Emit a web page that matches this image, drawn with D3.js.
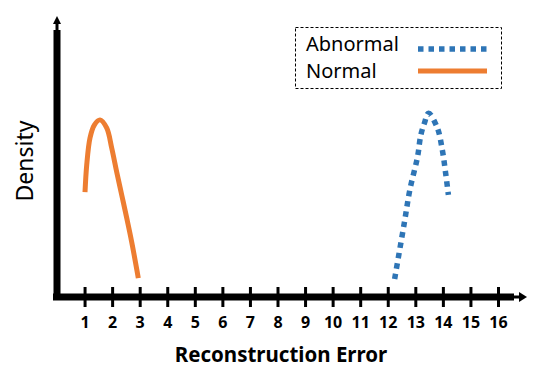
<!DOCTYPE html>
<html lang="en">
  <head>
    <meta charset="utf-8">
    <script src="https://cdn.jsdelivr.net/npm/d3@7"></script>
    <style>
      body { margin: 0; background: #fff; }
      text { font-family: "Noto Sans", "Open Sans", sans-serif; }
    </style>
  </head>
  <body>
    <script>
      // tick values on the error axis
      var ticks = [1, 2, 3, 4, 5, 6, 7, 8, 9, 10, 11, 12, 13, 14, 15, 16];

      // normal curve
      var normalX = [1.016, 1.078, 1.197, 1.353, 1.56, 1.803, 1.985, 2.166, 2.348, 2.529, 2.71, 2.95];
      var normalY = [0.388, 0.489, 0.589, 0.637, 0.656, 0.626, 0.552, 0.463, 0.378, 0.293, 0.204, 0.07];

      // abnormal curve
      var abnormalX = [12.25, 12.6, 12.8, 13.08, 13.2, 13.33, 13.48, 13.8, 13.98, 14.1, 14.2];
      var abnormalY = [0.067, 0.274, 0.396, 0.519, 0.6, 0.644, 0.681, 0.626, 0.544, 0.459, 0.378];

      var w = 547, h = 372;
      var x0 = 57, y0 = 297;

      var svg = d3.select("body").append("svg")
        .attr("width", w)
        .attr("height", h);

      var xscale = d3.scaleLinear().domain([0, 16]).range([x0, 498]);
      var yscale = d3.scaleLinear().domain([0, 1]).range([y0, 27]);

      // axes lines
      svg.append("line")
        .attr("x1", 53).attr("x2", 514)
        .attr("y1", y0).attr("y2", y0)
        .attr("stroke", "#000").attr("stroke-width", 7);
      svg.append("line")
        .attr("x1", 510).attr("x2", 522)
        .attr("y1", y0).attr("y2", y0)
        .attr("stroke", "#000").attr("stroke-width", 3);
      svg.append("path")
        .attr("d", "M519,292 L527,297 L519,302 Z")
        .attr("fill", "#000");

      svg.append("line")
        .attr("x1", x0).attr("x2", x0)
        .attr("y1", 300).attr("y2", 30)
        .attr("stroke", "#000").attr("stroke-width", 7);
      svg.append("line")
        .attr("x1", x0).attr("x2", x0)
        .attr("y1", 32).attr("y2", 22)
        .attr("stroke", "#000").attr("stroke-width", 3);
      svg.append("path")
        .attr("d", "M53,24 L57,16 L61,24 Z")
        .attr("fill", "#000");

      // x axis ticks
      var xaxis = d3.axisBottom(xscale)
        .tickValues(ticks)
        .tickSize(20)
        .tickPadding(10);
      var gx = svg.append("g")
        .attr("transform", "translate(0," + 287 + ")")
        .call(xaxis);
      gx.select(".domain").remove();
      gx.selectAll(".tick line")
        .attr("stroke", "#000")
        .attr("stroke-width", 3);
      gx.selectAll(".tick text")
        .attr("fill", "#000")
        .style("font-family", "'Noto Sans', sans-serif")
        .style("font-size", "16px")
        .style("font-weight", "bold");

      // axis titles
      svg.append("text")
        .attr("x", 281).attr("y", 362)
        .attr("text-anchor", "middle")
        .style("font-size", "20.5px")
        .style("font-weight", "bold")
        .text("Reconstruction Error");

      svg.append("text")
        .attr("transform", "translate(33,161) rotate(-90)")
        .attr("text-anchor", "middle")
        .style("font-size", "23px")
        .text("Density");

      // curves
      var line = d3.line()
        .x(function(d) { return xscale(d[0]); })
        .y(function(d) { return yscale(d[1]); })
        .curve(d3.curveCatmullRom);

      var normal = d3.zip(normalX, normalY);
      var abnormal = d3.zip(abnormalX, abnormalY);

      svg.append("path")
        .attr("d", line(normal))
        .attr("fill", "none")
        .attr("stroke", "#ed7d31")
        .attr("stroke-width", 5);

      svg.append("path")
        .attr("d", line(abnormal))
        .attr("fill", "none")
        .attr("stroke", "#2e75b6")
        .attr("stroke-width", 5.5)
        .attr("stroke-dasharray", "5.5,5");

      // legend
      svg.append("rect")
        .attr("x", 295.5).attr("y", 27.5)
        .attr("width", 206).attr("height", 61)
        .attr("fill", "none")
        .attr("stroke", "#000")
        .attr("stroke-width", 1)
        .attr("stroke-dasharray", "3,2");

      svg.append("text")
        .attr("x", 306).attr("y", 51)
        .style("font-size", "20px")
        .text("Abnormal");
      svg.append("text")
        .attr("x", 306).attr("y", 78)
        .style("font-size", "20px")
        .text("Normal");

      svg.append("line")
        .attr("x1", 418).attr("x2", 487)
        .attr("y1", 49).attr("y2", 49)
        .attr("stroke", "#2e75b6")
        .attr("stroke-width", 5.5)
        .attr("stroke-dasharray", "5.5,5");
      svg.append("line")
        .attr("x1", 418).attr("x2", 487)
        .attr("y1", 71).attr("y2", 71)
        .attr("stroke", "#ed7d31")
        .attr("stroke-width", 5);
    </script>
  </body>
</html>
